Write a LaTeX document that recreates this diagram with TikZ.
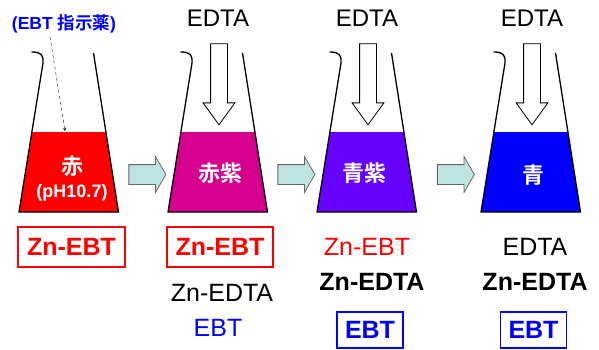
\documentclass[tikz,border=0pt]{standalone}
\usepackage{fontspec}
\setmainfont{Liberation Sans}
\newfontfamily\jafont[BoldFont={Noto Sans CJK JP Bold}]{Noto Sans CJK JP}
\usetikzlibrary{positioning}
\usetikzlibrary{calc}
\usetikzlibrary{shapes.arrows}
\usetikzlibrary{arrows}

\definecolor{znebt}{RGB}{255,0,0}
\definecolor{redviolet}{RGB}{214,0,142}
\definecolor{blueviolet}{RGB}{102,0,255}
\definecolor{freeebt}{RGB}{0,0,255}
\definecolor{stepcyan}{RGB}{191,227,227}

\tikzset{
    % This seems a reasonably comfortable arrow shape
    >=stealth,
%
    % Glass walls of a flask
    glass/.style={line width=1.3pt, line join=round},
%
    % Fat arrow leading on to the next flask
    next arrow/.style={
        single arrow, draw=black!60, fill=stepcyan, line width=0.8pt,
        inner xsep=0, inner ysep=9.5pt, minimum width=35pt, minimum height=37pt,
        single arrow head extend=8pt, single arrow tip angle=120},
%
    % Hollow arrow for the EDTA being added
    feed arrow/.style={
        single arrow, draw, fill=white, line width=0.8pt, rotate=-90,
        inner xsep=0, inner ysep=8pt, minimum width=31pt, minimum height=81pt,
        single arrow head extend=7.5pt, single arrow tip angle=72},
%
    % Text sizes
    label text/.style={font=\fontsize{24}{28}\selectfont},
    species/.style={font=\fontsize{25}{30}\selectfont, inner sep=0},
    colour text/.style={text=white, font=\jafont\bfseries\fontsize{22}{26}\selectfont},
%
    % Frame round the species that gives the colour
    framed/.style={draw, line width=1.2pt, inner sep=0,
        font=\bfseries\fontsize{25}{30}\selectfont}}

% Flask: bottom centre x, liquid colour, name
\newcommand{\drawflask}[3]{%
    \coordinate (#3) at (#1,212);
    \begin{scope}[shift={(#3)}]
        \fill [#2] (-36.6,-80) -- (37.4,-80) -- (50,0) -- (-49.5,0) -- cycle;
        \draw [glass] (-37,-160) .. controls (-27,-160) and (-25,-157) .. (-25.5,-149)
            -- (-49.5,0) -- (50,0) -- (25,-159);
    \end{scope}}

\begin{document}
\begin{tikzpicture}[x=1pt, y=-1pt]

\useasboundingbox (0,0) rectangle (599,350);

% Four flasks along the titration

\drawflask{68.5}{znebt}{f1}
\drawflask{217.5}{redviolet}{f2}
\drawflask{366.5}{blueviolet}{f3}
\drawflask{530.5}{freeebt}{f4}

\node [colour text] (c1) at (72,166) {赤};
\node [text=white, font=\bfseries\fontsize{18}{22}\selectfont] (ph) at (72,193) {(pH10.7)};
\node [colour text] (c2) at (220,173) {赤紫};
\node [colour text] (c3) at (364,173) {青紫};
\node [colour text] (c4) at (533,175) {青};

% Indicator put in at the start
\node [text=freeebt, font=\bfseries\fontsize{17.5}{21}\selectfont] (ind) at (64,24)
    {(EBT {\jafont 指示薬})};
\coordinate (surface) at (65,131);
\draw [->, dashed, thin] ([xshift=-14pt]ind.south) -- (surface);

% EDTA added from above
\foreach \x/\ax/\n in {218/219/2, 367/368/3, 532/532/4} {
    \node [label text] (edta\n) at (\x,18) {EDTA};
    \node [feed arrow] (feed\n) at (\ax,78.5) {};
}

% Steps between the flasks
\node [next arrow] (step1) at (144.5,174.5) {};
\node [next arrow] (step2) at (293.5,174.5) {};
\node [next arrow] (step3) at (453,174.5) {};

% Species present below each flask
\node [framed, text=znebt, draw=znebt, minimum width=107pt, minimum height=40pt]
    (s1a) at (71.5,247) {Zn-EBT};

\node [framed, text=znebt, draw=znebt, minimum width=106pt, minimum height=40pt]
    (s2a) at (220,247) {Zn-EBT};
\node [species] (s2b) at (222,293) {Zn-EDTA};
\node [species, text=freeebt] (s2c) at (218,328) {EBT};

\node [species, text=znebt] (s3a) at (367,247) {Zn-EBT};
\node [species, font=\bfseries\fontsize{25}{30}\selectfont] (s3b) at (372,282) {Zn-EDTA};
\node [framed, text=freeebt, draw=freeebt, minimum width=66pt, minimum height=36pt]
    (s3c) at (370,330) {EBT};

\node [species] (s4a) at (535,247) {EDTA};
\node [species, font=\bfseries\fontsize{25}{30}\selectfont] (s4b) at (535,282) {Zn-EDTA};
\node [framed, text=freeebt, draw=freeebt, minimum width=66pt, minimum height=36pt]
    (s4c) at (533.5,330) {EBT};

\end{tikzpicture}
\end{document}
